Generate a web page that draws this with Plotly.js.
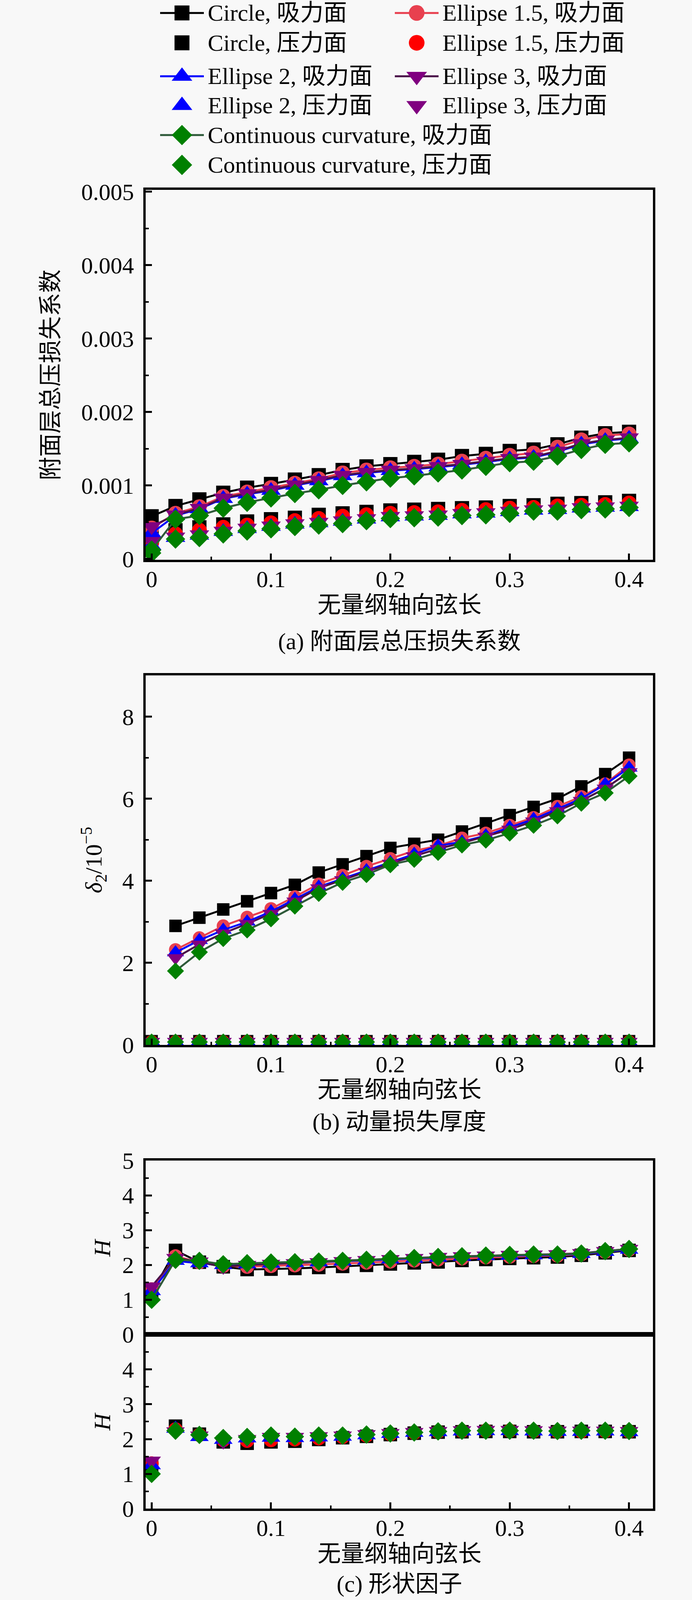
<!DOCTYPE html>
<html>
<head>
<meta charset="utf-8">
<script src="https://cdn.plot.ly/plotly-3.0.1.min.js"></script>
<style>
  html, body { margin: 0; padding: 0; background: #f8f8f8; overflow: hidden; }
  #plot { width: 1772px; }
</style>
</head>
<body>
<div id="plot"></div>
<script>
// ---- data ----
const shapeNames = ["Circle", "Ellipse 1.5", "Ellipse 2", "Ellipse 3", "Continuous curvature"];
const sideNames = ["吸力面", "压力面"];

const chord = [0, 0.02, 0.04, 0.06, 0.08, 0.10, 0.12, 0.14, 0.16, 0.18, 0.20,
               0.22, 0.24, 0.26, 0.28, 0.30, 0.32, 0.34, 0.36, 0.38, 0.40];
const chordB = [0.02, 0.04, 0.06, 0.08, 0.10, 0.12, 0.14, 0.16, 0.18, 0.20,
                0.22, 0.24, 0.26, 0.28, 0.30, 0.32, 0.34, 0.36, 0.38, 0.40];

// (a) total pressure loss coefficient
const lossSucCircle = [0.00058,0.00072,0.00081,0.00090,0.00097,0.00102,0.00108,0.00114,0.00121,0.00126,0.00129,0.00132,0.00135,0.00140,0.00143,0.00147,0.00149,0.00156,0.00165,0.00171,0.00173];
const lossSucE15    = [0.00042,0.00062,0.00071,0.00085,0.00091,0.00097,0.00103,0.00109,0.00117,0.00121,0.00124,0.00126,0.00129,0.00133,0.00137,0.00141,0.00144,0.00152,0.00162,0.00168,0.00170];
const lossSucE2     = [0.00035,0.00059,0.00068,0.00082,0.00088,0.00093,0.00100,0.00106,0.00113,0.00117,0.00120,0.00122,0.00125,0.00128,0.00132,0.00136,0.00138,0.00146,0.00156,0.00161,0.00164];
const lossSucE3     = [0.00044,0.00060,0.00069,0.00083,0.00089,0.00094,0.00101,0.00107,0.00114,0.00118,0.00121,0.00123,0.00126,0.00129,0.00133,0.00137,0.00139,0.00147,0.00157,0.00162,0.00165];
const lossSucCC     = [0.00012,0.00054,0.00059,0.00069,0.00077,0.00083,0.00089,0.00094,0.00100,0.00105,0.00110,0.00113,0.00117,0.00121,0.00126,0.00131,0.00133,0.00140,0.00149,0.00156,0.00158];
const lossPreCircle = [0.00030,0.00039,0.00043,0.00047,0.00051,0.00054,0.00056,0.00060,0.00062,0.00064,0.00066,0.00067,0.00068,0.00069,0.00070,0.00072,0.00073,0.00075,0.00076,0.00077,0.00079];
const lossPreE15    = [0.00022,0.00034,0.00039,0.00043,0.00046,0.00049,0.00052,0.00055,0.00058,0.00060,0.00062,0.00063,0.00064,0.00066,0.00067,0.00069,0.00070,0.00072,0.00073,0.00074,0.00076];
const lossPreE2     = [0.00018,0.00029,0.00032,0.00037,0.00041,0.00044,0.00047,0.00049,0.00051,0.00054,0.00057,0.00058,0.00059,0.00061,0.00062,0.00064,0.00066,0.00067,0.00069,0.00070,0.00071];
const lossPreE3     = [0.00024,0.00030,0.00033,0.00038,0.00042,0.00045,0.00048,0.00050,0.00052,0.00055,0.00058,0.00059,0.00060,0.00062,0.00063,0.00065,0.00067,0.00068,0.00070,0.00071,0.00072];
const lossPreCC     = [0.00008,0.00027,0.00029,0.00034,0.00038,0.00041,0.00044,0.00046,0.00048,0.00052,0.00055,0.00056,0.00057,0.00059,0.00060,0.00062,0.00065,0.00065,0.00067,0.00068,0.00070];

// (b) momentum thickness, 1e-5
const d2SucCircle = [2.90,3.10,3.30,3.50,3.70,3.90,4.20,4.40,4.60,4.80,4.90,5.00,5.20,5.40,5.60,5.80,6.00,6.30,6.60,7.00];
const d2SucE15    = [2.32,2.61,2.90,3.11,3.32,3.61,3.92,4.13,4.35,4.54,4.73,4.85,5.04,5.16,5.35,5.54,5.81,6.05,6.36,6.82];
const d2SucE2     = [2.25,2.55,2.80,3.00,3.25,3.55,3.85,4.05,4.25,4.45,4.65,4.85,4.95,5.10,5.30,5.50,5.75,6.00,6.35,6.75];
const d2SucE3     = [2.12,2.45,2.72,2.95,3.20,3.50,3.82,4.02,4.22,4.42,4.60,4.78,4.92,5.08,5.25,5.45,5.70,5.95,6.25,6.65];
const d2SucCC     = [1.80,2.26,2.59,2.80,3.07,3.38,3.69,3.96,4.15,4.39,4.52,4.69,4.87,4.99,5.16,5.35,5.58,5.89,6.14,6.55];
const d2PreCircle = [0.09,0.09,0.09,0.09,0.09,0.09,0.09,0.09,0.09,0.09,0.09,0.09,0.09,0.09,0.09,0.09,0.09,0.09,0.09,0.09,0.09];
const d2PreE15    = [0.08,0.08,0.08,0.08,0.08,0.08,0.08,0.08,0.08,0.08,0.08,0.08,0.08,0.08,0.08,0.08,0.08,0.08,0.08,0.08,0.08];
const d2PreE2     = [0.08,0.08,0.08,0.08,0.08,0.08,0.08,0.08,0.08,0.08,0.08,0.08,0.08,0.08,0.08,0.08,0.08,0.08,0.08,0.08,0.08];
const d2PreE3     = [0.08,0.08,0.08,0.08,0.08,0.08,0.08,0.08,0.08,0.08,0.08,0.08,0.08,0.08,0.08,0.08,0.08,0.08,0.08,0.08,0.08];
const d2PreCC     = [0.07,0.07,0.07,0.07,0.07,0.07,0.07,0.07,0.07,0.07,0.07,0.07,0.07,0.07,0.07,0.07,0.07,0.07,0.07,0.07,0.07];

// (c) shape factor H
const hSucCircle = [1.20,2.42,2.08,1.95,1.87,1.88,1.90,1.93,1.96,1.99,2.03,2.06,2.09,2.13,2.16,2.19,2.21,2.23,2.28,2.35,2.42];
const hSucE15    = [1.30,2.25,2.08,1.97,1.95,1.97,1.99,2.01,2.04,2.07,2.10,2.13,2.16,2.19,2.22,2.24,2.26,2.27,2.31,2.38,2.44];
const hSucE2     = [1.25,2.12,2.05,2.00,2.02,2.04,2.06,2.08,2.10,2.13,2.16,2.18,2.21,2.24,2.26,2.27,2.28,2.29,2.32,2.38,2.44];
const hSucE3     = [1.38,2.20,2.10,1.95,2.00,2.03,2.05,2.08,2.11,2.14,2.17,2.20,2.23,2.25,2.27,2.29,2.30,2.31,2.34,2.40,2.46];
const hSucCC     = [1.00,2.15,2.12,2.02,2.05,2.07,2.08,2.10,2.12,2.15,2.18,2.20,2.23,2.25,2.27,2.29,2.30,2.30,2.33,2.40,2.46];
const hPreCircle = [1.20,2.37,2.14,1.92,1.88,1.92,1.94,1.99,2.04,2.08,2.13,2.17,2.20,2.21,2.22,2.22,2.21,2.21,2.22,2.22,2.21];
const hPreE15    = [1.30,2.28,2.12,1.97,1.95,1.97,1.99,2.02,2.06,2.10,2.14,2.18,2.21,2.23,2.24,2.24,2.23,2.22,2.22,2.23,2.22];
const hPreE2     = [1.25,2.30,2.06,1.98,2.02,2.04,2.03,2.05,2.07,2.11,2.15,2.18,2.20,2.22,2.23,2.23,2.22,2.21,2.21,2.22,2.20];
const hPreE3     = [1.38,2.22,2.10,1.93,2.00,2.06,2.06,2.08,2.10,2.14,2.17,2.20,2.23,2.25,2.26,2.26,2.25,2.24,2.24,2.24,2.23];
const hPreCC     = [1.00,2.24,2.12,2.03,2.06,2.10,2.07,2.10,2.10,2.13,2.16,2.19,2.22,2.24,2.24,2.24,2.24,2.23,2.24,2.24,2.23];

const lossTicks = [0, 0.001, 0.002, 0.003, 0.004, 0.005];
const d2Ticks = [0, 2, 4, 6, 8];
const hTicksTop = [0, 1, 2, 3, 4, 5];
const hTicksBottom = [0, 1, 2, 3, 4];
const chordTicks = [0, 0.1, 0.2, 0.3, 0.4];

// ---- styles ----
const styles = [
  {symbol: "square",        marker: "#000000", sucMarker: "#000000", line: "#000000", k: 1.0},
  {symbol: "circle",        marker: "#ff0000", sucMarker: "#e8404f", line: "#e8404f", k: 1.05},
  {symbol: "triangle-up",   marker: "#0000ff", sucMarker: "#0000ff", line: "#0000ff", k: 1.2},
  {symbol: "triangle-down", marker: "#800080", sucMarker: "#800080", line: "#4a1048", k: 1.2},
  {symbol: "diamond",       marker: "#008000", sucMarker: "#008000", line: "#2f5a3a", k: 1.05}
];

// the reference is 1772 x 4822; if the window is shorter, squeeze vertically so nothing is cut
const W = 1772, REF_H = 4822;
const H = Math.min(REF_H, window.innerHeight || REF_H);
const f = H / REF_H;
const s = 0.4 + 0.6 * f;        // text / marker scale
document.getElementById("plot").style.height = H + "px";

const FONT = "Liberation Serif, Noto Sans CJK SC, serif";
const FS = Math.round(66 * s);
const px = v => v / W;              // reference pixel -> paper x
const py = v => 1 - v / REF_H;      // reference pixel -> paper y

const traces = [];

function addPanel(xSuc, sucSets, xPre, preSets, xa, ya, size) {
  shapeNames.forEach((name, i) => {
    const st = styles[i];
    traces.push({
      type: "scatter", mode: "lines+markers",
      x: xSuc, y: sucSets[i], xaxis: xa, yaxis: ya,
      name: name + ", " + sideNames[0], showlegend: false,
      line: {color: st.line, width: 5},
      marker: {symbol: st.symbol, color: st.sucMarker, size: size * st.k * s}
    });
    traces.push({
      type: "scatter", mode: "markers",
      x: xPre, y: preSets[i], xaxis: xa, yaxis: ya,
      name: name + ", " + sideNames[1], showlegend: false,
      marker: {symbol: st.symbol, color: st.marker, size: size * st.k * s}
    });
  });
}

addPanel(chord, [lossSucCircle, lossSucE15, lossSucE2, lossSucE3, lossSucCC],
         chord, [lossPreCircle, lossPreE15, lossPreE2, lossPreE3, lossPreCC], "x", "y", 40);
addPanel(chordB, [d2SucCircle, d2SucE15, d2SucE2, d2SucE3, d2SucCC],
         chord, [d2PreCircle, d2PreE15, d2PreE2, d2PreE3, d2PreCC], "x2", "y2", 35);

// (c) suction side on top, pressure side below
const hSuc = [hSucCircle, hSucE15, hSucE2, hSucE3, hSucCC];
const hPre = [hPreCircle, hPreE15, hPreE2, hPreE3, hPreCC];
shapeNames.forEach((name, i) => {
  const st = styles[i];
  traces.push({
    type: "scatter", mode: "lines+markers",
    x: chord, y: hSuc[i], xaxis: "x3", yaxis: "y3",
    name: name + ", " + sideNames[0], showlegend: false,
    line: {color: st.line, width: 5},
    marker: {symbol: st.symbol, color: st.sucMarker, size: 38 * st.k * s}
  });
});
shapeNames.forEach((name, i) => {
  const st = styles[i];
  traces.push({
    type: "scatter", mode: "markers",
    x: chord, y: hPre[i], xaxis: "x4", yaxis: "y4",
    name: name + ", " + sideNames[1], showlegend: false,
    marker: {symbol: st.symbol, color: st.marker, size: 38 * st.k * s}
  });
});

// ---- legend drawn in its own pixel-space subplot (plotly caps legend symbols at 16px) ----
const legendColX = [466, 1067];
const legendRowY = [39, 129, 230, 318, 407, 497];
const legendCol = [0, 1, 0, 1, 0];
const legendRow = [0, 0, 2, 2, 4];
const annotations = [];

shapeNames.forEach((name, i) => {
  const st = styles[i];
  const cx = legendColX[legendCol[i]];
  [0, 1].forEach(side => {
    const cy = legendRowY[legendRow[i] + side];
    if (side === 0) {
      traces.push({
        type: "scatter", mode: "lines", x: [cx - 56, cx + 56], y: [cy, cy],
        xaxis: "x5", yaxis: "y5", showlegend: false, hoverinfo: "skip", cliponaxis: false,
        line: {color: st.line, width: 5}
      });
    }
    traces.push({
      type: "scatter", mode: "markers", x: [cx], y: [cy],
      xaxis: "x5", yaxis: "y5", showlegend: false, hoverinfo: "skip", cliponaxis: false,
      marker: {symbol: st.symbol, color: side === 0 ? st.sucMarker : st.marker, size: 42 * st.k * s}
    });
    annotations.push({
      xref: "x5", yref: "y5", x: cx + 64, y: cy, xanchor: "left", yanchor: "middle",
      text: name + ", " + sideNames[side], showarrow: false,
      font: {family: FONT, size: FS, color: "#000"}
    });
  });
});

// ---- titles and captions ----
const plotCx = px((373 + 1672) / 2);
function addText(text, x, y, angle) {
  annotations.push({
    xref: "paper", yref: "paper", x: x, y: y, xanchor: "center", yanchor: "middle",
    text: text, textangle: angle || 0, showarrow: false,
    font: {family: FONT, size: FS, color: "#000"}
  });
}
addText("无量纲轴向弦长", plotCx, py(1823));
addText("(a) 附面层总压损失系数", plotCx, py(1933));
addText("附面层总压损失系数", px(130), py(1130), -90);
addText("无量纲轴向弦长", plotCx, py(3285));
addText("(b) 动量损失厚度", plotCx, py(3381));
addText("<i>δ</i><sub>2</sub>/10<sup>−5</sup>", px(240), py(2592), -90);
addText("无量纲轴向弦长", plotCx, py(4683));
addText("(c) 形状因子", plotCx, py(4774));
addText("<i>H</i>", px(262), py(3760), -90);
addText("<i>H</i>", px(262), py(4284), -90);

// ---- axes ----
function xAxis(anchor, labels) {
  const ax = {
    domain: [px(373), px(1672)], anchor: anchor, range: [-0.005, 0.42],
    tickmode: "array", tickvals: chordTicks, ticktext: chordTicks.map(String),
    showticklabels: labels, ticks: labels ? "inside" : "", ticklen: 16, tickwidth: 5, tickcolor: "#000",
    ticklabelstandoff: -8,
    showline: true, linewidth: 6, linecolor: "#000", mirror: true,
    showgrid: false, zeroline: false, fixedrange: true,
    tickfont: {family: FONT, size: FS, color: "#000"}
  };
  if (labels) ax.minor = {dtick: 0.05, tick0: 0, ticks: "inside", ticklen: 8, tickwidth: 4, tickcolor: "#000"};
  return ax;
}
function yAxis(anchor, top, bottom, range, vals, text, minorStep) {
  return {
    domain: [py(bottom), py(top)], anchor: anchor, range: range,
    tickmode: "array", tickvals: vals, ticktext: text,
    ticks: "inside", ticklen: 16, tickwidth: 5, tickcolor: "#000",
    ticklabelstandoff: 12,
    minor: {dtick: minorStep, tick0: 0, ticks: "inside", ticklen: 8, tickwidth: 4, tickcolor: "#000"},
    showline: true, linewidth: 6, linecolor: "#000", mirror: true,
    showgrid: false, zeroline: false, fixedrange: true,
    tickfont: {family: FONT, size: FS, color: "#000"}
  };
}

const layout = {
  width: W, height: H,
  margin: {l: 0, r: 0, t: 0, b: 0},
  paper_bgcolor: "#f8f8f8", plot_bgcolor: "#f8f8f8",
  font: {family: FONT, size: FS, color: "#000"},
  showlegend: false,
  xaxis: xAxis("y", true),
  yaxis: yAxis("x", 572, 1687, [-0.000012, 0.005025], lossTicks,
               lossTicks.map(v => v === 0 ? "0" : v.toFixed(3)), 0.0005),
  xaxis2: xAxis("y2", true),
  yaxis2: yAxis("x2", 2036, 3149, [0, 9], d2Ticks, d2Ticks.map(String), 1),
  xaxis3: xAxis("y3", false),
  yaxis3: yAxis("x3", 3498, 4022, [0, 5], hTicksTop, hTicksTop.map(String), 0.5),
  xaxis4: xAxis("y4", true),
  yaxis4: yAxis("x4", 4022, 4547, [0, 5], hTicksBottom, hTicksBottom.map(String), 0.5),
  xaxis5: {domain: [0, 1], anchor: "y5", range: [0, W], visible: false, fixedrange: true},
  yaxis5: {domain: [py(545), 1], anchor: "x5", range: [545, 0], visible: false, fixedrange: true},
  annotations: annotations
};

Plotly.newPlot("plot", traces, layout, {staticPlot: true});
</script>
</body>
</html>
